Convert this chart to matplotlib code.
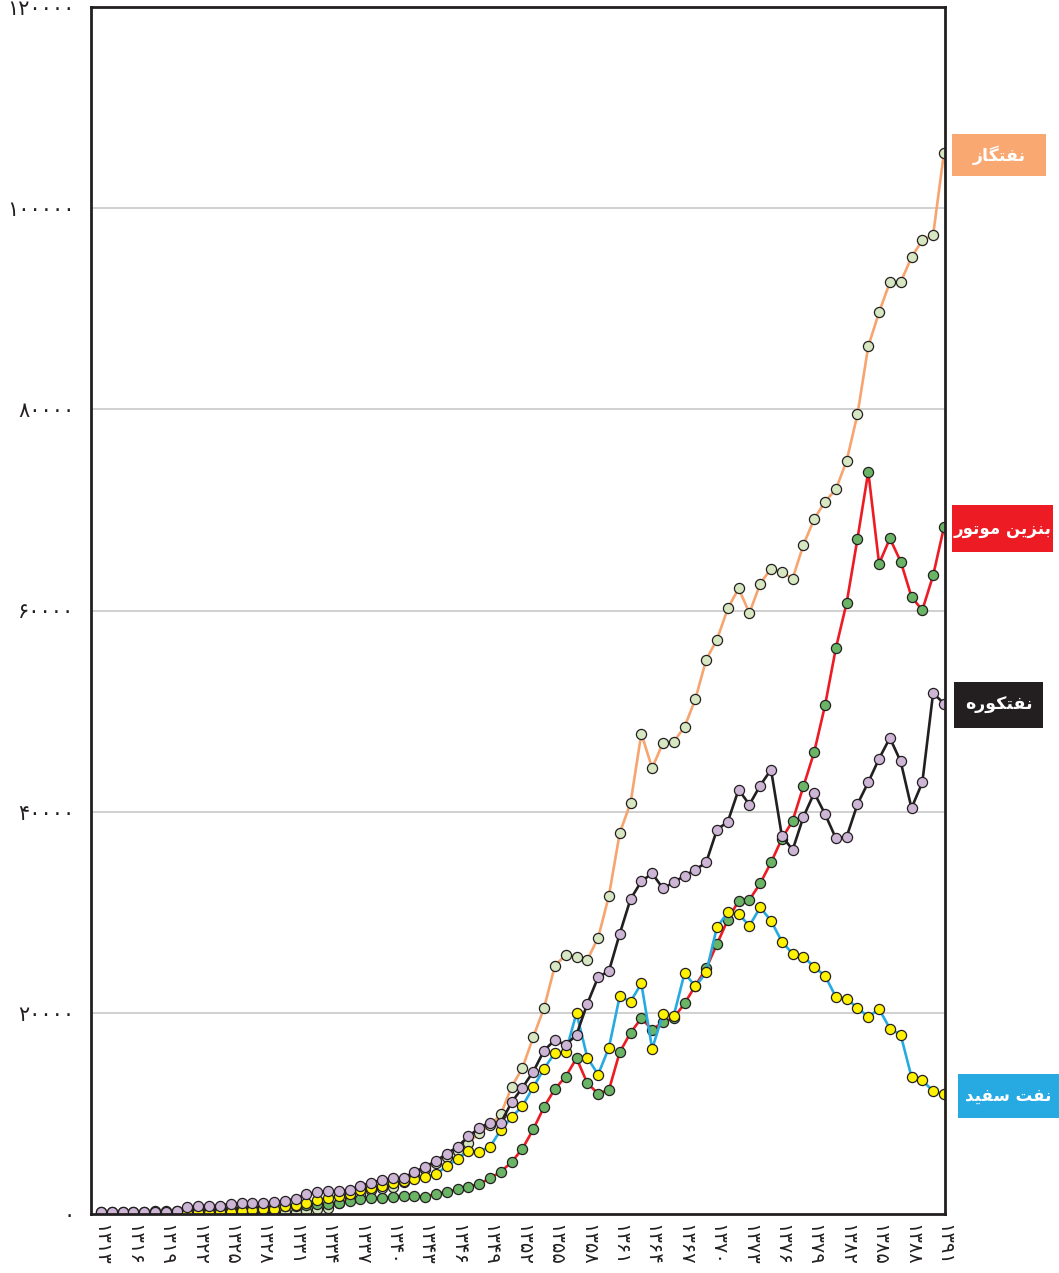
import matplotlib
matplotlib.use("Agg")
import matplotlib.pyplot as plt
from matplotlib.patches import Rectangle

# --- data (years in the Persian calendar) ---
years_red = list(range(1313, 1392))
benzin = [150, 170, 190, 200, 220, 250, 280, 320, 360, 400,
          440, 480, 520, 560, 600, 650, 700, 760, 820, 880,
          950, 1030, 1120, 1320, 1460, 1550, 1600, 1720, 1790, 1790,
          1720, 1990, 2220, 2460, 2720, 2990, 3550, 4210, 5170, 6500,
          8430, 10650, 12440, 13660, 15490, 13000, 11970, 12340, 16090, 18010,
          19470, 18310, 19080, 19500, 20930, 22700, 24410, 26840, 29250, 31140,
          31240, 32870, 34950, 37300, 39100, 42520, 45940, 50580, 56250, 60770,
          67130, 73800, 64650, 67160, 64870, 61360, 60030, 63480, 68260]

years_black = list(range(1313, 1392))
naftkure = [170, 170, 170, 170, 170, 170, 230, 270, 670, 800,
            830, 800, 1030, 1060, 1060, 1060, 1150, 1280, 1520, 1990,
            2160, 2240, 2270, 2390, 2770, 3130, 3370, 3530, 3600, 4180,
            4680, 5290, 5990, 6700, 7710, 8560, 9090, 9090, 11110, 12570,
            14160, 16250, 17310, 16790, 17840, 20900, 23550, 24150, 27860, 31310,
            33070, 33860, 32370, 32970, 33630, 34230, 34950, 38210, 39000, 42190,
            40700, 42600, 44180, 37610, 36200, 39490, 41870, 39760, 37360, 37510,
            40740, 42930, 45270, 47330, 44990, 40350, 42900, 51790, 50750]

years_blue = list(range(1317, 1392))
naftsefid = [0, 0, 0, 0,
             70, 170, 130, 170, 170, 300, 400, 470, 500, 800,
             900, 1120, 1390, 1620, 1790, 1960, 2390, 2620, 2790, 3060,
             3300, 3500, 3710, 3950, 4780, 5470, 6300, 6200, 6700, 8360,
             9620, 10750, 12600, 14460, 16020, 16120, 19970, 15550, 13860, 16550,
             21660, 21120, 22920, 16420, 19870, 19730, 23950, 22620, 24010, 28530,
             29980, 29820, 28660, 30480, 29150, 27090, 25870, 25600, 24550, 23680,
             21590, 21390, 20500, 19600, 20370, 18440, 17810, 13630, 13300, 12210, 11910]

years_orange = list(range(1326, 1392))
naftgaz = [20, 30, 70, 70, 170, 230, 330, 470, 570, 1100,
           1500, 1900, 2350, 2550, 2700, 3200, 3900, 4500, 5100, 5700,
           6300, 7090, 8030, 8800, 9920, 12650, 14530, 17610, 20500, 24680,
           25770, 25570, 25270, 27460, 31640, 37880, 40860, 47760, 44330, 46850,
           46950, 48440, 51190, 55120, 57110, 60200, 62190, 59750, 62670, 64160,
           63810, 63170, 66550, 69100, 70830, 72040, 74890, 79500, 86270, 89650,
           92640, 92640, 95120, 96810, 97310, 105470]

xtick_years = list(range(1313, 1392, 3))
ytick_vals = [0, 20000, 40000, 60000, 80000, 100000, 120000]

# series labels (Arabic presentation forms, visual order)
label_gaz = "\uFEAF\uFE8E\uFB95\uFE98\uFED4\uFEE7"                         # نفتگاز
label_benzin = "\uFEAD\uFEEE\uFE97\uFEEE\uFEE3 \uFEE6\uFBFE\uFEB0\uFEE8\uFE91"  # بنزین موتور
label_kure = "\uFEE9\uFEAD\uFEEE\uFB91\uFE98\uFED4\uFEE7"                  # نفتکوره
label_sefid = "\uFEAA\uFBFF\uFED4\uFEB3 \uFE96\uFED4\uFEE7"                # نفت سفید

FA_DIGITS = str.maketrans("0123456789", "\u06F0\u06F1\u06F2\u06F3\u06F4\u06F5\u06F6\u06F7\u06F8\u06F9")


def fa(n):
    return str(n).translate(FA_DIGITS)


W, H = 1059, 1273
fig = plt.figure(figsize=(W / 100, H / 100), dpi=100)
ax = fig.add_axes([91 / W, (H - 1214) / H, 854 / W, 1207 / H])

dark = "#231f20"
mk = dict(marker="o", markersize=7.3, markeredgecolor=dark, markeredgewidth=0.9)

ax.plot(years_orange, naftgaz, color="#f7a46f", lw=1.9, markerfacecolor="#d6e7c1", zorder=3, **mk)
ax.plot(years_red, benzin, color="#ed1c24", lw=1.9, markerfacecolor="#6ab466", zorder=4, **mk)
ax.plot(years_blue, naftsefid, color="#27aae1", lw=1.9, markerfacecolor="#fff200", zorder=5, **mk)
ax.plot(years_black, naftkure, color=dark, lw=1.9, markerfacecolor="#cdb5d6", zorder=6, **mk)

ax.set_xlim(1312.07, 1391.1)
ax.set_ylim(0, 120000)

ax.set_yticks(ytick_vals)
ax.set_yticklabels([fa(v) for v in ytick_vals], fontsize=15)
ax.set_xticks(xtick_years)
ax.set_xticklabels([fa(y) for y in xtick_years], fontsize=14, rotation=270, va="top", ha="center")
ax.tick_params(axis="both", length=0, colors=dark)
ax.tick_params(axis="y", pad=12)
ax.tick_params(axis="x", pad=7)

for v in ytick_vals[1:-1]:
    ax.axhline(v, color="#c4c4c4", lw=1.1, zorder=1)

for s in ax.spines.values():
    s.set_color(dark)
    s.set_linewidth(2)
    s.set_zorder(7)

# coloured name boxes on the right
boxes = [
    (label_gaz, "#f8a870", 952, 134, 94, 42, 12.5),
    (label_benzin, "#ed1c24", 952, 505, 101, 47, 12),
    (label_kure, dark, 954, 682, 89, 46, 12.5),
    (label_sefid, "#27aae1", 958, 1074, 101, 44, 12),
]
for txt, col, x0, y0, bw, bh, fs in boxes:
    fig.add_artist(Rectangle((x0 / W, 1 - (y0 + bh) / H), bw / W, bh / H,
                             transform=fig.transFigure, facecolor=col, edgecolor="none"))
    fig.text((x0 + bw / 2) / W, 1 - (y0 + bh / 2) / H, txt, color="white",
             fontsize=fs, fontweight="bold", ha="center", va="center")

fig.savefig("out.png", dpi=100)
